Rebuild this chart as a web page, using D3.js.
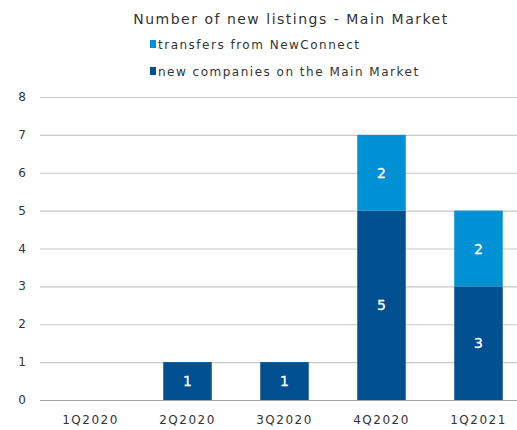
<!DOCTYPE html>
<html>
<head>
<meta charset="utf-8">
<script src="https://cdn.jsdelivr.net/npm/d3@7"></script>
<style>
  body { margin: 0; background: #fff; }
  svg { display: block; font-family: "DejaVu Sans", Verdana, sans-serif; }
</style>
</head>
<body>
<svg id="chart" width="517" height="430"></svg>
<script>
const categories = ["1Q2020", "2Q2020", "3Q2020", "4Q2020", "1Q2021"];
const newCompanies = [0, 1, 1, 5, 3];
const transfers = [0, 0, 0, 2, 2];
const yTicks = [0, 1, 2, 3, 4, 5, 6, 7, 8];
const seriesNames = ["transfers from NewConnect", "new companies on the Main Market"];

const colors = { dark: "#004f8f", light: "#0091d5" };

const svg = d3.select("#chart");
const margin = { top: 97, left: 42, bottom: 30 };

const x = d3.scaleBand()
  .domain(categories)
  .range([margin.left, margin.left + 485])
  .paddingInner(0.5)
  .paddingOuter(0.25);

const y = d3.scaleLinear()
  .domain([0, 8])
  .range([400, margin.top]);

// Gridlines
svg.append("g")
  .selectAll("line")
  .data(yTicks)
  .join("line")
  .attr("x1", 40)
  .attr("x2", 517)
  .attr("y1", d => y(d) + 0.5)
  .attr("y2", d => y(d) + 0.5)
  .attr("stroke", d => d === 0 ? "#a6a6a6" : "#c8c8c8")
  .attr("stroke-width", 1.2);

// Y labels
svg.append("g")
  .selectAll("text")
  .data(yTicks)
  .join("text")
  .attr("x", 22)
  .attr("y", d => y(d) + 4)
  .attr("text-anchor", "middle")
  .attr("font-size", 12)
  .attr("fill", "#333")
  .text(d => d);

// X labels
svg.append("g")
  .selectAll("text")
  .data(categories)
  .join("text")
  .attr("x", d => x(d) + x.bandwidth() / 2)
  .attr("y", 424)
  .attr("text-anchor", "middle")
  .attr("font-size", 12)
  .attr("letter-spacing", 1.5)
  .attr("fill", "#333")
  .text(d => d);

// Stacked bars
const rows = categories.map((c, i) => ({ cat: c, a: newCompanies[i], b: transfers[i] }));
const stack = d3.stack().keys(["a", "b"])(rows);
const fill = { a: colors.dark, b: colors.light };

stack.forEach(layer => {
  const g = svg.append("g");
  const segs = layer.filter(d => d[1] - d[0] > 0);
  g.selectAll("rect")
    .data(segs)
    .join("rect")
    .attr("x", d => x(d.data.cat))
    .attr("width", x.bandwidth())
    .attr("y", d => y(d[1]))
    .attr("height", d => y(d[0]) - y(d[1]))
    .attr("fill", fill[layer.key]);
  g.selectAll("text")
    .data(segs)
    .join("text")
    .attr("x", d => x(d.data.cat) + x.bandwidth() / 2)
    .attr("y", d => (y(d[0]) + y(d[1])) / 2 + 5)
    .attr("text-anchor", "middle")
    .attr("font-size", 14)
    .attr("fill", "#fff")
    .attr("stroke", "#fff")
    .attr("stroke-width", 0.3)
    .text(d => d[1] - d[0]);
});

// Title
svg.append("text")
  .attr("x", 291)
  .attr("y", 24)
  .attr("text-anchor", "middle")
  .attr("font-size", 14)
  .attr("letter-spacing", 1.5)
  .attr("fill", "#333")
  .text("Number of new listings - Main Market");

// Legend
const legend = svg.append("g")
  .selectAll("g")
  .data(seriesNames)
  .join("g")
  .attr("transform", (d, i) => `translate(150,${49 + i * 27})`);
legend.append("rect")
  .attr("x", 0)
  .attr("y", -9)
  .attr("width", 6)
  .attr("height", 8)
  .attr("fill", (d, i) => i === 0 ? colors.light : colors.dark);
legend.append("text")
  .attr("x", 8)
  .attr("y", 0)
  .attr("font-size", 12)
  .attr("letter-spacing", 1.5)
  .attr("fill", "#333")
  .text(d => d);
</script>
</body>
</html>
